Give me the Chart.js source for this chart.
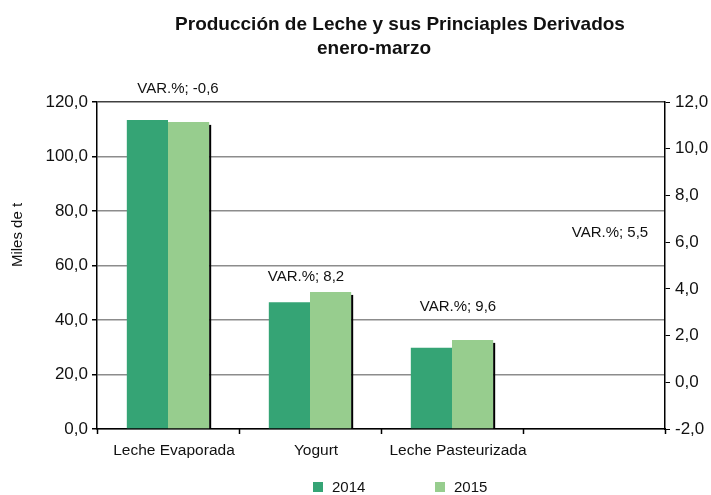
<!DOCTYPE html>
<html>
<head>
<meta charset="utf-8">
<script src="https://cdn.jsdelivr.net/npm/chart.js@4.4.0/dist/chart.umd.min.js"></script>
<style>
  html, body { margin: 0; padding: 0; background: #fff; }
  #wrap { width: 711px; height: 495px; }
</style>
</head>
<body>
<div id="wrap"><canvas id="milkChart"></canvas></div>
<script>
// Data
const categories = ['Leche Evaporada', 'Yogurt', 'Leche Pasteurizada', ''];
const prod2014 = [113.4, 46.5, 29.8, null];
const prod2015 = [112.7, 50.3, 32.7, null];
const varPct = ['-0,6', '8,2', '9,6', '5,5'];
const seriesNames = ['2014', '2015'];

const FONT = "'Liberation Sans', Arial, sans-serif";
const fmt = v => v.toFixed(1).replace('.', ',');

// Title, axis title, legend, VAR labels, category ticks and bar shadow
const extras = {
    id: 'extras',
    afterDatasetsDraw(chart) {
        const ctx = chart.ctx;
        // shadow on the right side of the 2015 bars
        const meta = chart.getDatasetMeta(1);
        const vals = chart.data.datasets[1].data;
        ctx.save();
        ctx.fillStyle = '#000';
        meta.data.forEach((bar, i) => {
            if (vals[i] == null) return;
            ctx.fillRect(bar.x + bar.width / 2, bar.y + 3, 2, bar.base - bar.y - 3);
        });
        ctx.restore();
    },
    afterDraw(chart, args, opts) {
        const ctx = chart.ctx;
        const x = chart.scales.x, y = chart.scales.y;
        const area = chart.chartArea;
        ctx.save();

        // tick marks between categories
        ctx.strokeStyle = '#000';
        ctx.lineWidth = 1.5;
        const step = (area.right - area.left) / categories.length;
        for (let i = 0; i <= categories.length; i++) {
            const tx = Math.round(area.left + i * step) + 0.5;
            ctx.beginPath();
            ctx.moveTo(tx, area.bottom);
            ctx.lineTo(tx, area.bottom + 5);
            ctx.stroke();
        }

        ctx.fillStyle = '#111';
        // title
        ctx.font = 'bold 19px ' + FONT;
        ctx.textAlign = 'center';
        ctx.textBaseline = 'alphabetic';
        ctx.fillText('Producción de Leche y sus Princiaples Derivados', 400, 30);
        ctx.fillText('enero-marzo', 374, 54);

        // VAR.% labels
        ctx.font = '15px ' + FONT;
        ctx.textBaseline = 'middle';
        varPct.forEach((t, i) => {
            const px = x.getPixelForValue(i) + opts.dx[i];
            const py = y.getPixelForValue(opts.level[i]);
            ctx.fillText('VAR.%; ' + t, px, py);
        });

        // y axis title
        ctx.save();
        ctx.translate(18, 235);
        ctx.rotate(-Math.PI / 2);
        ctx.font = '15px ' + FONT;
        ctx.fillText('Miles de t', 0, 0);
        ctx.restore();

        // legend
        ctx.font = '15px ' + FONT;
        ctx.textAlign = 'left';
        chart.data.datasets.forEach((ds, i) => {
            const bx = opts.legendX[i];
            ctx.fillStyle = ds.backgroundColor;
            ctx.fillRect(bx, 482, 10, 10);
            ctx.fillStyle = '#111';
            ctx.fillText(ds.label, bx + 19, 488);
        });
        ctx.restore();
    }
};

new Chart(document.getElementById('milkChart'), {
    type: 'bar',
    data: {
        labels: categories,
        datasets: [
            { label: seriesNames[0], data: prod2014, backgroundColor: '#35a475', yAxisID: 'y' },
            { label: seriesNames[1], data: prod2015, backgroundColor: '#97cd8e', yAxisID: 'y' }
        ]
    },
    options: {
        responsive: true,
        maintainAspectRatio: false,
        animation: false,
        events: [],
        layout: { padding: { top: 102, left: 0, right: 0, bottom: 0 } },
        datasets: { bar: { categoryPercentage: 0.58, barPercentage: 1.0 } },
        plugins: {
            legend: { display: false },
            title: { display: false },
            tooltip: { enabled: false },
            extras: {
                level: [125, 56, 45, 72],
                dx: [10, -4, 6, 16],
                legendX: [313, 435]
            }
        },
        scales: {
            x: {
                offset: true,
                grid: { display: false },
                border: { color: '#000', width: 1.5 },
                ticks: { color: '#111', font: { family: FONT, size: 15.5 }, padding: 4, labelOffset: 6, maxRotation: 0 },
                afterFit: s => { s.height = 66; }
            },
            y: {
                position: 'left',
                min: 0, max: 120,
                ticks: { stepSize: 20, color: '#111', font: { family: FONT, size: 17 }, padding: 4, callback: v => fmt(v) },
                grid: {
                    color: c => (c.tick && c.tick.value === 120 ? '#404040' : '#8c8c8c'),
                    lineWidth: 1.5, tickColor: '#000', tickLength: 5
                },
                border: { color: '#000', width: 1.5 },
                afterFit: s => { s.width = 97; }
            },
            y2: {
                position: 'right',
                min: -2, max: 12,
                ticks: { stepSize: 2, color: '#111', font: { family: FONT, size: 17 }, padding: 5, callback: v => fmt(v) },
                grid: { drawOnChartArea: false, tickColor: '#000', tickLength: 5 },
                border: { color: '#000', width: 1.5 },
                afterFit: s => { s.width = 46; }
            }
        }
    },
    plugins: [extras]
});
</script>
</body>
</html>
